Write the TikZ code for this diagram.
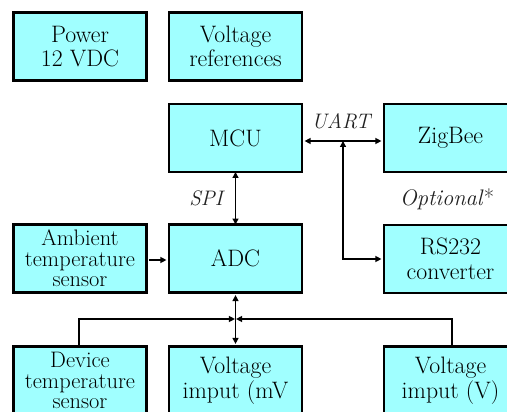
\documentclass[tikz,border=0pt]{standalone}
\usetikzlibrary{arrows.meta}
\definecolor{boxfill}{HTML}{A0FFFF}
\definecolor{lbl}{HTML}{222222}
\tikzset{
  blk/.style={draw=black, line width=2.6pt, fill=boxfill, minimum width=133pt, minimum height=68pt,
    inner sep=0pt, align=center, font=\fontsize{23.8}{24.5}\selectfont},
  blkthree/.style={blk, font=\fontsize{22.4}{20.5}\selectfont},
  conn/.style={line width=1.3pt, -{Triangle[length=6pt,width=6pt]}},
  bconn/.style={line width=1.3pt, {Triangle[length=6pt,width=6pt]}-{Triangle[length=6pt,width=6pt]}},
  lab/.style={inner sep=0pt, text=lbl, font=\fontsize{21}{21}\itshape\selectfont}
}
\begin{document}
\begin{tikzpicture}[x=1pt,y=-1pt]
\useasboundingbox (0,0) rectangle (507,412);
\clip (0,0) rectangle (507,412);
\fill[white] (0,0) rectangle (507,412);
\node[blk] (pw) at (80,46.5) {Power\\12 VDC};
\node[blk] (vr) at (235.5,46.5) {Voltage\\references};
\node[blk] (mcu) at (235.5,138) {MCU};
\node[blk] (zb) at (450.5,138) {ZigBee};
\node[blkthree] (amb) at (80,258.5) {Ambient\\temperature\\sensor};
\node[blk] (adc) at (235.5,258.5) {ADC};
\node[blk] (rs) at (450.5,259) {RS232\\converter};
\node[blkthree] (dev) at (80,380.5) {Device\\temperature\\sensor};
\node[blk] (vmv) at (235.5,380.5) {Voltage\\imput (mV};
\node[blk] (vv) at (450.5,380.5) {Voltage\\imput (V)};
% UART
\coordinate (u) at (343,141);
\draw[bconn] ([xshift=1.3pt]mcu.east |- u) -- ([xshift=-1.3pt]zb.west |- u);
\draw[bconn] (u) |- ([xshift=-1.3pt]rs.west);
\node[lab, anchor=base] (uart) at (341,129) {UART};
\node[lab, anchor=base, font=\fontsize{22.5}{22.5}\itshape\selectfont] (opt) at (447,205) {Optional\textup{*}};
% SPI
\draw[bconn] ([yshift=1.3pt]mcu.south) -- ([yshift=-1.3pt]adc.north);
\node[lab, anchor=base] (spi) at (206,206) {SPI};
% ambient
\draw[conn] ([xshift=1.3pt]amb.east |- 0,260) -- ([xshift=-1.3pt]adc.west |- 0,260);
% bus
\coordinate (j) at (235.5,319);
\draw[bconn] ([yshift=-1.3pt]adc.south) -- ([yshift=1.3pt]vmv.north);
\draw[conn, shorten >=0.6pt] ([xshift=-1pt,yshift=-1.3pt]dev.north) |- (j);
\draw[conn, shorten >=0.6pt] ([xshift=1.5pt,yshift=-1.3pt]vv.north) |- (j);
\end{tikzpicture}
\end{document}
